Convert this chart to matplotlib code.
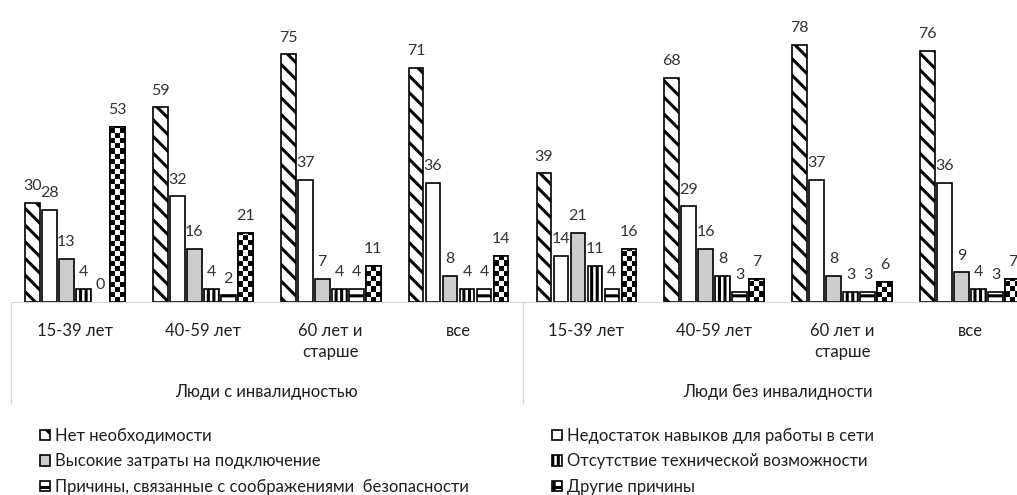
import numpy as np
import matplotlib.pyplot as plt
from matplotlib.patches import Rectangle

plt.rcParams['font.family'] = ['Lato', 'DejaVu Sans']
plt.rcParams['hatch.linewidth'] = 2.2

# categories
age_groups = ['15-39 лет', '40-59 лет', '60 лет и\nстарше', 'все',
              '15-39 лет', '40-59 лет', '60 лет и\nстарше', 'все']
people = ['Люди с инвалидностью', 'Люди без инвалидности']

# series (%), one value per category
no_need = [30, 59, 75, 71, 39, 68, 78, 76]
no_skills = [28, 32, 37, 36, 14, 29, 37, 36]
high_cost = [13, 16, 7, 8, 21, 16, 8, 9]
no_tech = [4, 4, 4, 4, 11, 8, 3, 4]
safety = [0, 2, 4, 4, 4, 3, 3, 3]
other = [53, 21, 11, 14, 16, 7, 6, 7]

names = ['Нет необходимости', 'Недостаток навыков для работы в сети',
         'Высокие затраты на подключение', 'Отсутствие технической возможности',
         'Причины, связанные с соображениями  безопасности', 'Другие причины']
series = [no_need, no_skills, high_cost, no_tech, safety, other]

styles = [dict(facecolor='white', hatch=r'\\'),
          dict(facecolor='white'),
          dict(facecolor='#cdcdcd'),
          dict(facecolor='white', hatch='|||'),
          dict(facecolor='white', hatch='--'),
          dict(facecolor='white')]

fig = plt.figure(figsize=(10.17, 4.95), dpi=100)
ax = fig.add_axes([11 / 1017, 193 / 495, 1023 / 1017, 264 / 495])

x = np.arange(len(age_groups))
step = 0.133
bw = 0.115
cell_h = 1.55  # checker cell height in data units

handles = []
for i, (vals, lab, st) in enumerate(zip(series, names, styles)):
    pos = x + (i - 2.5) * step
    lw = [0 if v == 0 else 1.2 for v in vals]
    bars = ax.bar(pos, vals, bw, edgecolor='black', linewidth=lw, zorder=2, **st)
    ax.bar_label(bars, padding=7, fontsize=11.5, color='#333333')
    if i == 5:
        # checkerboard fill
        for rect in bars:
            h = rect.get_height()
            if h <= 0:
                continue
            n = int(np.ceil(h / cell_h))
            arr = np.indices((n, 3)).sum(0) % 2
            x0 = rect.get_x()
            im = ax.imshow(arr, cmap='gray_r', origin='lower', aspect='auto',
                           interpolation='nearest', zorder=2.1,
                           extent=(x0, x0 + rect.get_width(), 0, n * cell_h))
            im.set_clip_path(rect)
        ax.bar(pos, vals, bw, facecolor='none', edgecolor='black', linewidth=lw, zorder=3)
        handles.append(Rectangle((0, 0), 1, 1, facecolor='white', edgecolor='black',
                                 hatch='++', linewidth=1.2))
    else:
        handles.append(bars[1])

ax.set_xlim(-0.5, 7.5)
ax.set_ylim(0, 80)
ax.set_xticks([])
ax.set_yticks([])
for s in ['left', 'top', 'right']:
    ax.spines[s].set_visible(False)
ax.spines['bottom'].set_color('#d9d9d9')

trans = ax.get_xaxis_transform()
for xi, g in zip(x, age_groups):
    ax.text(xi, -0.078, g, ha='center', va='top', fontsize=12, color='#1f1f1f',
            linespacing=1.45, transform=trans, clip_on=False)
for k, p in enumerate(people):
    ax.text(1.5 + 4 * k, -0.34, p, ha='center', va='center', fontsize=12,
            color='#1f1f1f', transform=trans, clip_on=False)
for xv in [-0.5, 3.5, 7.5]:
    ax.plot([xv, xv], [0, -0.383], transform=trans, color='#d9d9d9', lw=1,
            clip_on=False)

leg_kw = dict(loc='upper left', frameon=False, fontsize=12, borderpad=0,
              borderaxespad=0, handlelength=0.6, handleheight=0.6,
              handletextpad=0.3, labelspacing=0.56, labelcolor='#1f1f1f')
fig.legend([handles[0], handles[2], handles[4]], [names[0], names[2], names[4]],
           bbox_to_anchor=(40 / 1017, 1 - 428 / 495), **leg_kw)
fig.legend([handles[1], handles[3], handles[5]], [names[1], names[3], names[5]],
           bbox_to_anchor=(552 / 1017, 1 - 428 / 495), **leg_kw)

fig.savefig('out.png', dpi=100)
